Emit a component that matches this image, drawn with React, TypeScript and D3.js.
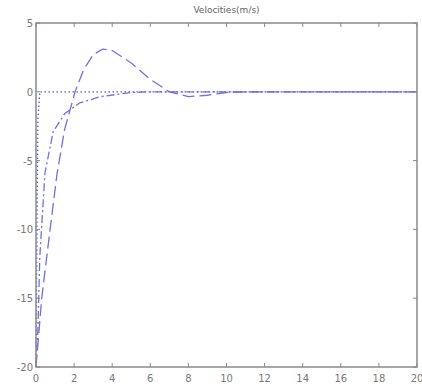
import * as d3 from 'd3';
import React, { useEffect, useRef } from 'react';

// Velocities chart (three responses)

const xTicks = [0, 2, 4, 6, 8, 10, 12, 14, 16, 18, 20];
const yTicks = [5, 0, -5, -10, -15, -20];

const dashedX = [0, 0.3, 0.74, 1.1, 1.5, 2.05, 2.5, 3, 3.5, 4, 5, 6, 7, 8, 9, 10, 11, 20];
const dashedY = [-20, -15, -10, -6, -2.75, 0, 1.6, 2.7, 3.1, 3.0, 2.1, 0.9, 0, -0.35, -0.25, -0.05, 0, 0];

const dashDotX = [0, 0.1, 0.2, 0.47, 0.9, 1.5, 2.3, 3.4, 5, 6, 20];
const dashDotY = [-20, -17.3, -12, -5.9, -2.9, -1.6, -0.8, -0.35, -0.05, 0, 0];

const dottedX = [0, 0.05, 0.1, 0.2, 20];
const dottedY = [-20, -10, -2, 0, 0];

export default () => {
    const ref = useRef<any>();

    useEffect(() => {
        const svg = d3.select<any, any>(ref.current);
        svg.selectAll('*').remove();

        const margin = { left: 36, right: 5, top: 23, bottom: 25 };
        const width = 422, height = 392;

        const x = d3.scaleLinear().domain([0, 20]).range([margin.left, width - margin.right]);
        const y = d3.scaleLinear().domain([-20, 5]).range([height - margin.bottom, margin.top]);

        svg.append('rect')
            .attr('width', width).attr('height', height).attr('fill', '#fff');

        const color = '#6f6fe6';
        const line = d3.line<number[]>().x(d => x(d[0])).y(d => y(d[1]));
        const series = [
            { xs: dottedX, ys: dottedY, dash: '1.5,2.5', c: '#5a5ad8' },
            { xs: dashDotX, ys: dashDotY, dash: '8,3,2,3', c: color },
            { xs: dashedX, ys: dashedY, dash: '12,5', c: color },
        ];
        series.forEach(s => {
            svg.append('path')
                .datum(s.xs.map((v, i) => [v, s.ys[i]]))
                .attr('d', line as any)
                .attr('fill', 'none')
                .attr('stroke', s.c)
                .attr('stroke-width', 1.3)
                .attr('stroke-dasharray', s.dash);
        });

        const axisColor = '#8a8a8a';
        svg.append('rect')
            .attr('x', x(0)).attr('y', y(5))
            .attr('width', x(20) - x(0)).attr('height', y(-20) - y(5))
            .attr('fill', 'none').attr('stroke', axisColor).attr('stroke-width', 1.5);

        const tl = 4;
        xTicks.forEach(t => {
            svg.append('line').attr('x1', x(t)).attr('x2', x(t))
                .attr('y1', y(-20)).attr('y2', y(-20) - tl).attr('stroke', axisColor);
            svg.append('line').attr('x1', x(t)).attr('x2', x(t))
                .attr('y1', y(5)).attr('y2', y(5) + tl).attr('stroke', axisColor);
            svg.append('text').attr('x', x(t)).attr('y', y(-20) + 15)
                .attr('text-anchor', 'middle').attr('font-size', 10)
                .attr('font-family', 'DejaVu Sans').attr('fill', '#777').text(t);
        });
        yTicks.forEach(t => {
            svg.append('line').attr('x1', x(0)).attr('x2', x(0) + tl)
                .attr('y1', y(t)).attr('y2', y(t)).attr('stroke', axisColor);
            svg.append('line').attr('x1', x(20)).attr('x2', x(20) - tl)
                .attr('y1', y(t)).attr('y2', y(t)).attr('stroke', axisColor);
            svg.append('text').attr('x', x(0) - 3).attr('y', y(t) + 4)
                .attr('text-anchor', 'end').attr('font-size', 10)
                .attr('font-family', 'DejaVu Sans').attr('fill', '#777').text(t);
        });

        svg.append('text').attr('x', (x(0) + x(20)) / 2).attr('y', 13)
            .attr('text-anchor', 'middle').attr('font-size', 9)
            .attr('font-family', 'DejaVu Sans').attr('fill', '#666')
            .text('Velocities(m/s)');
    });

    return (
        <svg ref={ref} width={422} height={392}
            style={{ position: 'absolute', left: 0, top: 0 }} />
    );
}
